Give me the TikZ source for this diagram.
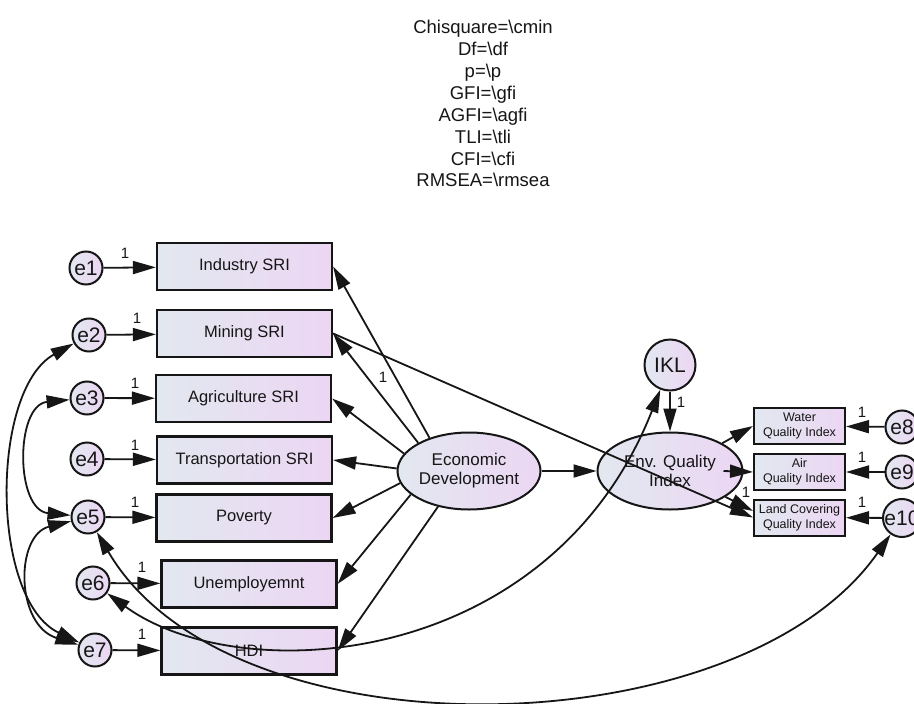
\documentclass[tikz,border=0pt]{standalone}
\usepackage{fontspec}
\setmainfont{Liberation Sans}
\usetikzlibrary{arrows.meta,shapes.geometric}
\definecolor{fillL}{RGB}{226,232,240}
\definecolor{fillR}{RGB}{236,214,243}
\definecolor{ink}{RGB}{22,22,22}
\begin{document}
\begin{tikzpicture}[x=1pt,y=-1pt,
  >={Triangle[length=23pt,width=13pt]},
  box/.style={rectangle,draw=ink,line width=2.2pt,left color=fillL,right color=fillR,
    minimum width=175pt,minimum height=47pt,inner sep=0pt,text=ink,
    font=\fontsize{16.5}{18}\selectfont},
  sbox/.style={rectangle,draw=ink,line width=2pt,left color=fillL,right color=fillR,
    minimum width=91pt,minimum height=36pt,inner sep=0pt,text=ink,align=center,
    font=\fontsize{12.5}{15}\selectfont},
  err/.style={circle,draw=ink,line width=2pt,left color=fillL,right color=fillR,
    minimum size=33pt,inner sep=0pt,text=ink,font=\fontsize{21}{21}\selectfont},
  lat/.style={ellipse,draw=ink,line width=2pt,left color=fillL,right color=fillR,
    minimum width=143pt,minimum height=77pt,inner sep=0pt,align=center,text=ink,
    font=\fontsize{17}{19}\selectfont},
  edge/.style={draw=ink,line width=1.8pt},
  one/.style={font=\fontsize{15}{15}\selectfont,text=ink,inner sep=0pt}]
\path[use as bounding box,fill=white] (0,0) rectangle (914,704);

% fit statistics
\node[align=center,anchor=north,text=ink,font=\fontsize{18.5}{21.9}\selectfont,inner sep=0pt] (fit) at (483,20)
 {Chisquare=\textbackslash cmin\\Df=\textbackslash df\\p=\textbackslash p\\GFI=\textbackslash gfi\\AGFI=\textbackslash agfi\\TLI=\textbackslash tli\\CFI=\textbackslash cfi\\RMSEA=\textbackslash rmsea};

% observed boxes
\node[box] (ind) at (244.5,266.5) {Industry SRI};
\node[box] (min) at (244.5,333.5) {Mining SRI};
\node[box] (agr) at (243.5,398.5) {Agriculture SRI};
\node[box] (tra) at (244.5,460) {Transportation SRI};
\node[box] (pov) at (244,518) {Poverty};
\node[box] (une) at (249,584) {Unemployemnt};
\node[box] (hdi) at (249,651) {HDI};

% errors
\node[err] (e1) at (86,268) {e1};
\node[err] (e2) at (89,335) {e2};
\node[err] (e3) at (87,398) {e3};
\node[err] (e4) at (87,459) {e4};
\node[err] (e5) at (88,517) {e5};
\node[err] (e6) at (93,583) {e6};
\node[err] (e7) at (95,650) {e7};

% latents
\node[lat] (ED) at (469,471) {Economic\\Development};
\node[lat,minimum width=145pt] (EQ) at (670,471) {Env. Quality\\Index};
\node[err,minimum size=51pt] (IKL) at (670,365) {IKL};

% right side
\node[sbox] (wat) at (799.5,426) {Water\\Quality Index};
\node[sbox] (air) at (799.5,472) {Air\\Quality Index};
\node[sbox] (lan) at (799.5,517.5) {Land Covering\\Quality Index};
\node[err] (e8) at (902,427) {e8};
\node[err] (e9) at (902,472) {e9};
\node[err] (e10) at (902,518) {e10};

% error -> indicator
\draw[edge,->] (e1) -- (ind);
\draw[edge,->] (e2) -- (min);
\draw[edge,->] (e3) -- (agr);
\draw[edge,->] (e4) -- (tra);
\draw[edge,->] (e5) -- (pov);
\draw[edge,->] (e6) -- (une);
\draw[edge,->] (e7) -- (hdi);
\node[one] (l1) at (125,253) {1};
\node[one] (l2) at (137,318) {1};
\node[one] (l3) at (135,383) {1};
\node[one] (l4) at (135,445) {1};
\node[one] (l5) at (135,502) {1};
\node[one] (l6) at (142,567) {1};
\node[one] (l7) at (142,634) {1};

% ED -> indicators
\draw[edge,->] (ED.140) -- (ind.east);
\draw[edge,->] (ED.151) -- (min.east);
\draw[edge,->] (ED.165) -- (agr.east);
\draw[edge,->] (ED.178) -- (tra.east);
\draw[edge,->] (ED.190) -- (pov.east);
\draw[edge,->] (ED.202) -- (une.east);
\draw[edge,->] (ED.229) -- (hdi.east);
\node[one] (ledi) at (383,377) {1};

% structural
\draw[edge,->] (ED) -- (EQ);
\draw[edge,->] (IKL) -- (EQ);
\node[one] (likl) at (681,402) {1};
\draw[edge,->] (EQ.28) -- (wat.west);
\draw[edge,->] ([xshift=-20pt]EQ.east) -- (air.west);
\draw[edge,->] (EQ.335) -- (lan.172);
\node[one] (llan) at (746,492) {1};
\draw[edge,->] (min.east) -- (lan.west);

\draw[edge,->] (e8) -- (wat);
\draw[edge,->] (e9) -- (air);
\draw[edge,->] (e10) -- (lan);
\node[one] (l8) at (862,412) {1};
\node[one] (l9) at (862,457) {1};
\node[one] (l10) at (862,502) {1};

% covariances
\draw[edge,<->] (e2) .. controls (-10,390) and (-10,600) .. (e7);
\draw[edge,<->] (e3) .. controls (15,405) and (15,510) .. (e5);
\draw[edge,<->] (e5) .. controls (15,535) and (15,625) .. (e7);
\draw[edge,<->] (e5) .. controls (230,760) and (740,750) .. (e10);
\draw[edge,<->] (e6) .. controls (240,690) and (550,670) .. (IKL);
\end{tikzpicture}
\end{document}
